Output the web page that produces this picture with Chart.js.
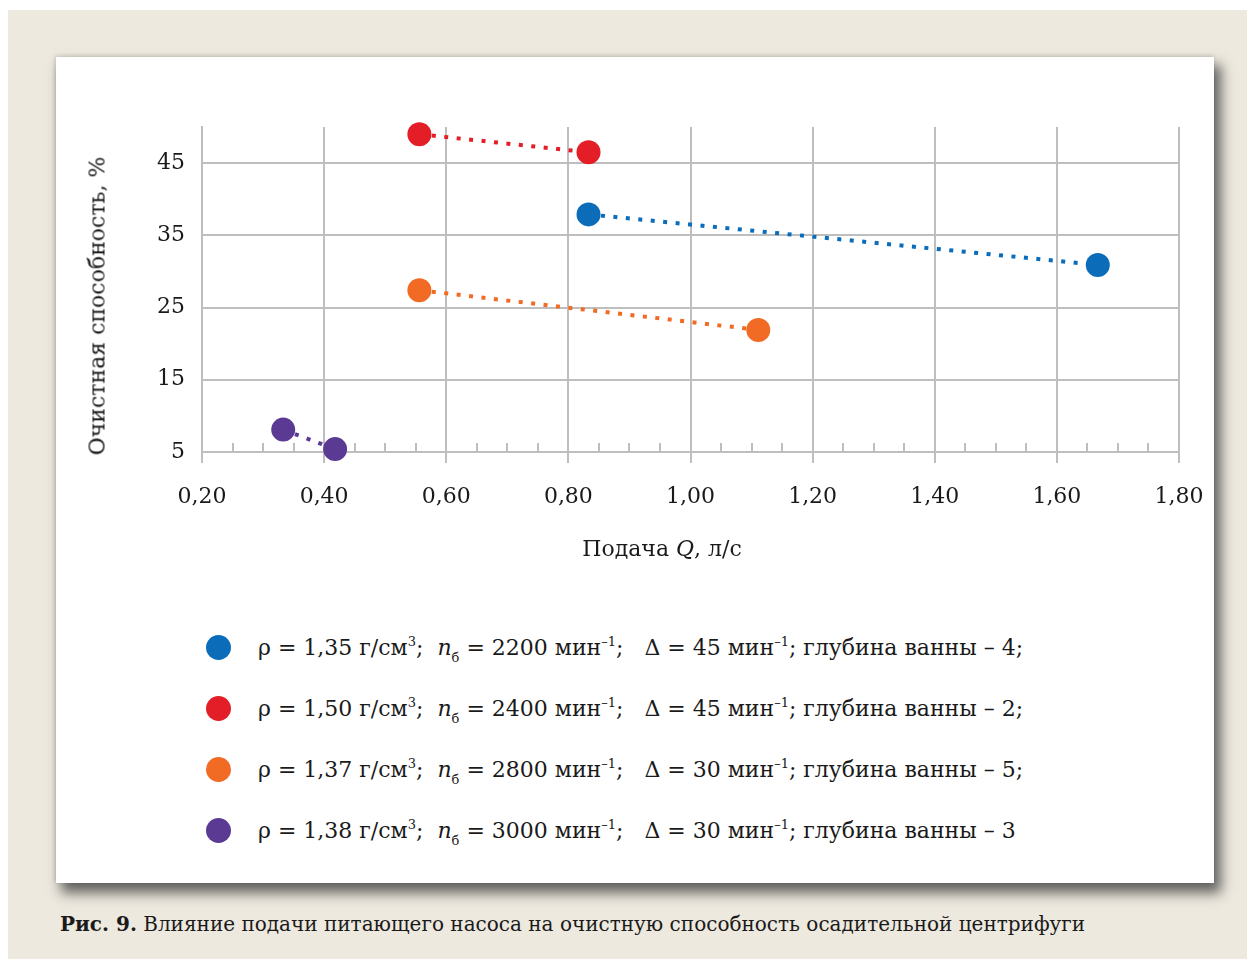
<!DOCTYPE html>
<html lang="ru">
<head>
<meta charset="utf-8">
<script src="https://cdn.jsdelivr.net/npm/chart.js@4/dist/chart.umd.min.js"></script>
<style>
  html, body { margin: 0; padding: 0; background: #ffffff; }
  body { width: 1247px; height: 959px; position: relative; overflow: hidden;
         font-family: "DejaVu Serif", "Liberation Serif", serif; color: #1a1a1a; }
  #bg { position: absolute; left: 8px; top: 10px; width: 1239px; height: 949px; background: #EDE9DF; }
  #panel { position: absolute; left: 56px; top: 57px; width: 1158px; height: 826px; background: #ffffff;
           box-shadow: 6px 9px 12px 1px rgba(40,40,40,0.7), -1px -1px 4px rgba(0,0,0,0.15); }
  #chartBox { position: absolute; left: 56px; top: 57px; width: 1158px; height: 530px; }
  #ytitle { position: absolute; left: 97px; top: 306px; transform: translate(-50%, -50%) rotate(-90deg);
            white-space: nowrap; font-size: 22px; }
  #xtitle { position: absolute; left: 662px; top: 548px; transform: translate(-50%, -50%);
            white-space: nowrap; font-size: 22px; }
  #legend { position: absolute; left: 0; top: 0; }
  .row { position: absolute; left: 206px; height: 30px; display: flex; align-items: center; white-space: pre; font-size: 22px; }
  .dot { width: 25px; height: 25px; border-radius: 50%; margin-right: 27px; flex: none; }
  .row sup { font-size: 13px; vertical-align: 9px; line-height: 0; }
  .row sub { font-size: 13px; vertical-align: -7px; line-height: 0; }
  #caption { position: absolute; left: 60px; top: 912px; font-size: 20px; white-space: nowrap; }
</style>
</head>
<body>
<div id="bg"></div>
<div id="panel"></div>
<div id="chartBox"><canvas id="c" width="1158" height="530"></canvas></div>
<div id="ytitle">Очистная способность, %</div>
<div id="xtitle">Подача <i>Q</i>, л/с</div>
<div id="legend"></div>
<div id="caption"><b>Рис. 9.</b> Влияние подачи питающего насоса на очистную способность осадительной центрифуги</div>
<script>
// ---- data ----
const qBlue = [0.833, 1.667];
const effBlue = [37.9, 30.9];
const qRed = [0.556, 0.833];
const effRed = [49.0, 46.5];
const qOrange = [0.556, 1.111];
const effOrange = [27.4, 21.9];
const qPurple = [0.333, 0.418];
const effPurple = [8.1, 5.4];

const seriesColors = ['#0B6CB9', '#E41E26', '#F16B24', '#5B3A93'];
const densities = ['1,35', '1,50', '1,37', '1,38'];
const speeds = ['2200', '2400', '2800', '3000'];
const deltas = ['45', '45', '30', '30'];
const depths = ['4;', '2;', '5;', '3'];

const xTicks = [0.2, 0.4, 0.6, 0.8, 1.0, 1.2, 1.4, 1.6, 1.8];
const xMinorTicks = [0.25, 0.3, 0.35, 0.45, 0.5, 0.55, 0.65, 0.7, 0.75, 0.85, 0.9, 0.95,
                     1.05, 1.1, 1.15, 1.25, 1.3, 1.35, 1.45, 1.5, 1.55, 1.65, 1.7, 1.75];
const yTicks = [5, 15, 25, 35, 45];

const seriesQ = [qBlue, qRed, qOrange, qPurple];
const seriesEff = [effBlue, effRed, effOrange, effPurple];

function pts(xs, ys) { return xs.map((x, i) => ({ x: x, y: ys[i] })); }

const datasets = seriesQ.map((xs, i) => ({
  label: 'ρ = ' + densities[i] + ' г/см³',
  data: pts(xs, seriesEff[i]),
  showLine: true,
  borderColor: seriesColors[i],
  backgroundColor: seriesColors[i],
  pointBackgroundColor: seriesColors[i],
  pointBorderColor: seriesColors[i],
  pointBorderWidth: 0,
  pointRadius: 12,
  pointHoverRadius: 12,
  borderWidth: 4,
  borderCapStyle: 'butt',
  borderDash: [4, 8.5],
  clip: false
}));

const GRID = '#BEBEBE';
const tickFont = { family: 'DejaVu Serif', size: 22 };

const minorTicksPlugin = {
  id: 'minorTicks',
  beforeDatasetsDraw(chart) {
    const xs = chart.scales.x, ys = chart.scales.y;
    const ctx = chart.ctx;
    const base = ys.getPixelForValue(yTicks[0]);
    ctx.save();
    ctx.strokeStyle = GRID;
    ctx.lineWidth = 2;
    xMinorTicks.forEach(v => {
      const px = Math.round(xs.getPixelForValue(v));
      ctx.beginPath();
      ctx.moveTo(px, base);
      ctx.lineTo(px, base - 9);
      ctx.stroke();
    });
    ctx.restore();
  }
};

new Chart(document.getElementById('c'), {
  type: 'scatter',
  data: { datasets: datasets },
  options: {
    responsive: false,
    animation: false,
    devicePixelRatio: 1,
    layout: { padding: { left: 0, right: 35, top: 70, bottom: 0 } },
    plugins: { legend: { display: false }, tooltip: { enabled: false } },
    scales: {
      x: {
        type: 'linear',
        min: xTicks[0],
        max: xTicks[xTicks.length - 1],
        afterBuildTicks: s => { s.ticks = xTicks.map(v => ({ value: v })); },
        afterFit: s => { s.height = 135; s.paddingLeft = 0; s.paddingRight = 0; },
        grid: { color: GRID, lineWidth: 2, drawTicks: true, tickLength: 11, tickColor: GRID },
        border: { display: true, color: GRID, width: 2 },
        ticks: {
          font: tickFont, color: '#1a1a1a', padding: 21, maxRotation: 0, autoSkip: false,
          callback: v => Number(v).toFixed(2).replace('.', ',')
        }
      },
      y: {
        type: 'linear',
        min: yTicks[0],
        max: 50,
        afterBuildTicks: s => { s.ticks = yTicks.map(v => ({ value: v })); },
        afterFit: s => { s.width = 146; s.paddingTop = 0; s.paddingBottom = 0; },
        grid: { color: GRID, lineWidth: 2, drawTicks: false },
        border: { display: true, color: GRID, width: 2 },
        ticks: { font: tickFont, color: '#1a1a1a', padding: 17, callback: v => String(v) }
      }
    }
  },
  plugins: [minorTicksPlugin]
});

// ---- legend (HTML, built from the arrays) ----
const legendEl = document.getElementById('legend');
const rowCenters = [647, 708, 769, 830];
seriesColors.forEach((col, i) => {
  const row = document.createElement('div');
  row.className = 'row';
  row.style.top = (rowCenters[i] - 15) + 'px';
  row.innerHTML = '<span class="dot" style="background:' + col + '"></span>' +
    '<span>ρ = ' + densities[i] + ' г/см<sup>3</sup>;  <i>n</i><sub>б</sub> = ' + speeds[i] +
    ' мин<sup>–1</sup>;   Δ = ' + deltas[i] + ' мин<sup>–1</sup>; глубина ванны – ' + depths[i] + '</span>';
  legendEl.appendChild(row);
});
</script>
</body>
</html>
